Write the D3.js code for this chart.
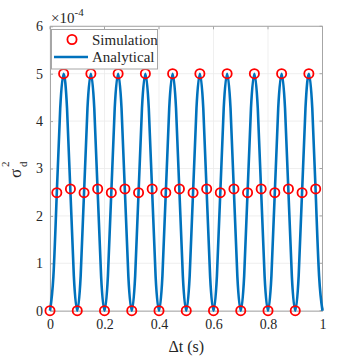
<!DOCTYPE html>
<html>
<head>
<meta charset="utf-8">
<script src="https://cdn.jsdelivr.net/npm/d3@7"></script>
<style>
  body { margin: 0; background: #fff; }
  svg { font-family: "Liberation Serif", "Times New Roman", serif; }
</style>
</head>
<body>
<svg id="chart" width="357" height="357"></svg>
<script>
// simulation points (x in s, y in units of 1e-4)
var simT = [0, 0.025, 0.05, 0.075, 0.1, 0.125, 0.15, 0.175, 0.2, 0.225,
            0.25, 0.275, 0.3, 0.325, 0.35, 0.375, 0.4, 0.425, 0.45, 0.475,
            0.5, 0.525, 0.55, 0.575, 0.6, 0.625, 0.65, 0.675, 0.7, 0.725,
            0.75, 0.775, 0.8, 0.825, 0.85, 0.875, 0.9, 0.925, 0.95, 0.975];
var simV = [0, 2.49, 5.0, 2.57, 0, 2.49, 5.0, 2.57, 0, 2.49,
            5.0, 2.57, 0, 2.49, 5.0, 2.57, 0, 2.49, 5.0, 2.57,
            0, 2.49, 5.0, 2.57, 0, 2.49, 5.0, 2.57, 0, 2.49,
            5.0, 2.57, 0, 2.49, 5.0, 2.57, 0, 2.49, 5.0, 2.57];

// analytical curve, sampled every 0.0125 s
var anaT = d3.range(0, 1.00001, 0.0125);
var anaV = [0, 0.73, 2.5, 4.27, 5, 4.27, 2.5, 0.73,
            0, 0.73, 2.5, 4.27, 5, 4.27, 2.5, 0.73,
            0, 0.73, 2.5, 4.27, 5, 4.27, 2.5, 0.73,
            0, 0.73, 2.5, 4.27, 5, 4.27, 2.5, 0.73,
            0, 0.73, 2.5, 4.27, 5, 4.27, 2.5, 0.73,
            0, 0.73, 2.5, 4.27, 5, 4.27, 2.5, 0.73,
            0, 0.73, 2.5, 4.27, 5, 4.27, 2.5, 0.73,
            0, 0.73, 2.5, 4.27, 5, 4.27, 2.5, 0.73,
            0, 0.73, 2.5, 4.27, 5, 4.27, 2.5, 0.73,
            0, 0.73, 2.5, 4.27, 5, 4.27, 2.5, 0.73,
            0];

var xTicks = [0, 0.2, 0.4, 0.6, 0.8, 1];
var xTickLabels = ["0", "0.2", "0.4", "0.6", "0.8", "1"];
var yTicks = [0, 1, 2, 3, 4, 5, 6];

var plotL = 50, plotR = 322.5, plotT = 26.3, plotB = 310.7;
var svg = d3.select("#chart");

var x = d3.scaleLinear().domain([0, 1]).range([plotL, plotR]);
var y = d3.scaleLinear().domain([0, 6]).range([plotB, plotT]);

var axisCol = "#a6a6a6", textCol = "#262626";

// grid
var grid = svg.append("g");
grid.selectAll(".gx").data(xTicks).enter().append("line")
    .attr("x1", function (d) { return x(d); }).attr("x2", function (d) { return x(d); })
    .attr("y1", plotT).attr("y2", plotB)
    .attr("stroke", "#ebebeb").attr("stroke-width", 0.8);
grid.selectAll(".gy").data(yTicks).enter().append("line")
    .attr("y1", function (d) { return y(d); }).attr("y2", function (d) { return y(d); })
    .attr("x1", plotL).attr("x2", plotR)
    .attr("stroke", "#ebebeb").attr("stroke-width", 0.8);

// axes (MATLAB style, ticks inward)
var xAxis = d3.axisBottom(x).tickValues(xTicks)
    .tickFormat(function (d, i) { return xTickLabels[i]; })
    .tickSizeInner(-3).tickSizeOuter(0).tickPadding(8);
var yAxis = d3.axisLeft(y).tickValues(yTicks)
    .tickFormat(d3.format("d"))
    .tickSizeInner(-3).tickSizeOuter(0).tickPadding(7);

var gx = svg.append("g").attr("transform", "translate(0," + plotB + ")").call(xAxis);
var gy = svg.append("g").attr("transform", "translate(" + plotL + ",0)").call(yAxis);
[gx, gy].forEach(function (g) {
    g.attr("font-family", "Liberation Serif").attr("font-size", 14);
    g.select(".domain").attr("stroke", axisCol);
    g.selectAll(".tick line").attr("stroke", axisCol);
    g.selectAll(".tick text").attr("fill", textCol);
});

// top and right box with ticks
svg.append("line").attr("x1", plotL).attr("x2", plotR).attr("y1", plotT).attr("y2", plotT)
    .attr("stroke", axisCol);
svg.append("line").attr("x1", plotR).attr("x2", plotR).attr("y1", plotT).attr("y2", plotB)
    .attr("stroke", axisCol);
svg.selectAll(".rt").data(yTicks).enter().append("line")
    .attr("x1", plotR).attr("x2", plotR - 3)
    .attr("y1", function (d) { return y(d); }).attr("y2", function (d) { return y(d); })
    .attr("stroke", axisCol);
svg.selectAll(".tt").data(xTicks).enter().append("line")
    .attr("y1", plotT).attr("y2", plotT + 3)
    .attr("x1", function (d) { return x(d); }).attr("x2", function (d) { return x(d); })
    .attr("stroke", axisCol);

// analytical line
var line = d3.line()
    .x(function (d, i) { return x(anaT[i]); })
    .y(function (d) { return y(d); })
    .curve(d3.curveNatural);
svg.append("path").datum(anaV)
    .attr("d", line)
    .attr("fill", "none")
    .attr("stroke", "#0072BD")
    .attr("stroke-width", 2.6);

// simulation markers
svg.selectAll(".sim").data(simV).enter().append("circle")
    .attr("cx", function (d, i) { return x(simT[i]); })
    .attr("cy", function (d) { return y(d); })
    .attr("r", 4.6)
    .attr("fill", "none")
    .attr("stroke", "#ff0000")
    .attr("stroke-width", 1.8);

// exponent label
var ex = svg.append("text").attr("x", 51).attr("y", 23)
    .attr("fill", textCol).style("font-size", "15px");
ex.append("tspan").text("\u00d710");
ex.append("tspan").attr("dy", -7).style("font-size", "11px").text("-4");

// y label
var yl = svg.append("g").attr("transform", "translate(21,178) rotate(-90)").attr("fill", textCol);
yl.append("text").attr("x", 0).attr("y", 0).style("font-size", "17px").text("\u03c3");
yl.append("text").attr("x", 11).attr("y", -12).style("font-size", "11px").text("2");
yl.append("text").attr("x", 11).attr("y", 6).style("font-size", "11px").text("d");

// x label
svg.append("text").attr("x", (plotL + plotR) / 2).attr("y", 352)
    .attr("text-anchor", "middle").attr("fill", textCol)
    .style("font-size", "16px").text("\u0394t (s)");

// legend
var lg = svg.append("g");
lg.append("rect").attr("x", 51.5).attr("y", 29.5).attr("width", 106).attr("height", 39.5)
    .attr("fill", "#fff").attr("stroke", axisCol).attr("stroke-width", 1);
lg.append("circle").attr("cx", 72).attr("cy", 39.5).attr("r", 4.6)
    .attr("fill", "none").attr("stroke", "#ff0000").attr("stroke-width", 1.8);
lg.append("line").attr("x1", 54).attr("x2", 88).attr("y1", 57).attr("y2", 57)
    .attr("stroke", "#0072BD").attr("stroke-width", 2.6);
lg.append("text").attr("x", 92).attr("y", 44.5).attr("fill", textCol)
    .style("font-size", "15px").text("Simulation");
lg.append("text").attr("x", 92).attr("y", 62).attr("fill", textCol)
    .style("font-size", "15px").text("Analytical");
</script>
</body>
</html>
